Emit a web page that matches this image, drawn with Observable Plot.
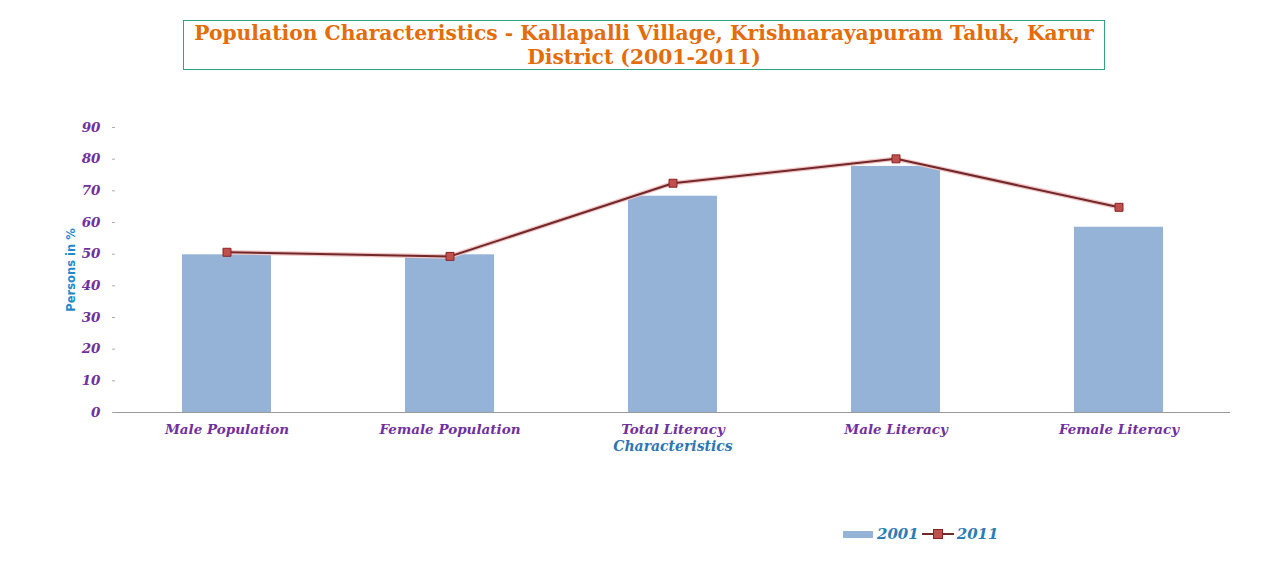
<!DOCTYPE html>
<html><head><meta charset="utf-8">
<script src="https://cdn.jsdelivr.net/npm/d3@7"></script>
<script src="https://cdn.jsdelivr.net/npm/@observablehq/plot@0.6"></script>
<style>
body{margin:0;background:#fff;}
#wrap{position:relative;width:1267px;height:574px;overflow:hidden;}
#title{position:absolute;left:183px;top:20px;width:922px;height:50px;border:1.5px solid #2fa57f;box-sizing:border-box;
 font-family:"DejaVu Serif",serif;font-weight:bold;font-size:20.3px;color:#e46c0a;text-align:center;line-height:24px;padding-top:0px;white-space:nowrap;}
#legend{position:absolute;left:843px;top:525px;font-family:"DejaVu Serif",serif;font-style:italic;font-weight:bold;font-size:15px;color:#2a7db5;display:flex;align-items:center;}
#chart{position:absolute;left:0;top:0;}
</style></head>
<body><div id="wrap"><div id="chart"></div>
<div id="title">Population Characteristics - Kallapalli Village, Krishnarayapuram Taluk, Karur<br>District (2001-2011)</div>
<div id="legend"></div></div>
<script>
const categories = ["Male Population","Female Population","Total Literacy","Male Literacy","Female Literacy"];
const values2001 = [49.8, 49.8, 68.3, 77.7, 58.5];
const values2011 = [50.6, 49.3, 72.4, 80.1, 64.8];
const yTicks = [0,10,20,30,40,50,60,70,80,90];
const seriesNames = ["2001","2011"];

const data2001 = categories.map((c,i)=>({cat:c, v:values2001[i]}));
const data2011 = categories.map((c,i)=>({cat:c, v:values2011[i]}));

const tickFont = {fill:"#7030a0", fontStyle:"italic", fontWeight:"bold", fontFamily:"DejaVu Serif, serif"};

const chart = Plot.plot({
  width:1267, height:574,
  marginLeft:115, marginRight:37, marginTop:127, marginBottom:162,
  style:{background:"transparent", fontFamily:"DejaVu Serif, serif"},
  x:{domain:categories, paddingInner:0.6, paddingOuter:0.3},
  y:{domain:[0,90]},
  marks:[
    Plot.barY(data2001,{x:"cat", y:"v", fill:"#95b3d7"}),
    Plot.ruleY([0],{stroke:"#999", strokeWidth:1.2}),
    Plot.ruleX([0],{frameAnchor:"left", stroke:"#999", strokeWidth:1.2}),
    Plot.axisY({ticks:yTicks, tickSize:3, tickPadding:12, stroke:"#aaa", fontSize:13.5, label:null, ...tickFont}),
    Plot.axisX({tickSize:0, tickPadding:12, fontSize:13.5, label:null, ...tickFont}),
    Plot.text(["Characteristics"],{frameAnchor:"bottom", dy:38, fill:"#2e75b6", fontStyle:"italic", fontWeight:"bold", fontSize:14, fontFamily:"DejaVu Serif, serif"}),
    Plot.text(["Persons in %"],{frameAnchor:"left", textAnchor:"middle", dx:-44, rotate:-90, fill:"#1f8ad0", fontWeight:"bold", fontSize:11.5, fontFamily:"DejaVu Sans, sans-serif"}),
    Plot.lineY(data2011,{x:"cat", y:"v", stroke:"#f2c4c4", strokeWidth:4.5}),
    Plot.lineY(data2011,{x:"cat", y:"v", stroke:"#70282a", strokeWidth:2}),
    Plot.dot(data2011,{x:"cat", y:"v", symbol:"square", r:4.5, fill:"#c0504d", stroke:"#8b2323", strokeWidth:1})
  ]
});
document.getElementById("chart").appendChild(chart);

const leg = document.getElementById("legend");
leg.innerHTML = `<svg width="30" height="10" style="margin-right:4px"><rect x="0" y="2" width="30" height="7" fill="#95b3d7"/></svg><span>${seriesNames[0]}</span>`+
 `<svg width="32" height="14" style="margin:0 3px"><line x1="0" y1="7" x2="32" y2="7" stroke="#70282a" stroke-width="2"/><rect x="11.5" y="2.5" width="9" height="9" fill="#c0504d" stroke="#8b2323"/></svg><span>${seriesNames[1]}</span>`;
</script></body></html>
